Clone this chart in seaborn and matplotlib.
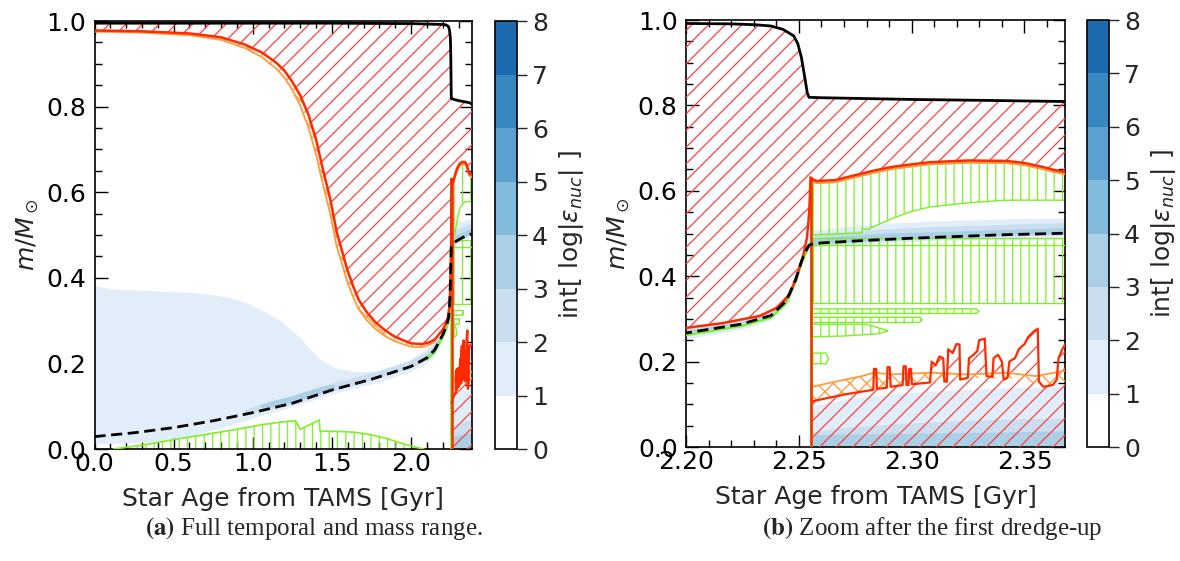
import matplotlib
matplotlib.use("Agg")
import matplotlib.pyplot as plt
import seaborn as sns
from matplotlib.colors import ListedColormap, BoundaryNorm
from matplotlib.cm import ScalarMappable
from matplotlib.ticker import AutoMinorLocator, FormatStrFormatter, MultipleLocator

# ---------------------------------------------------------------- data
# total stellar mass (Msun) vs. age from TAMS (Gyr)
total_age = [0.0, 0.5, 1.0, 1.5, 2.0, 2.1, 2.2, 2.22, 2.2305, 2.2377, 2.243, 2.2477,
             2.2495, 2.2511, 2.2528, 2.2537, 2.2545, 2.26, 2.28, 2.30, 2.33, 2.37, 2.385]
total_mass = [0.995, 0.995, 0.995, 0.995, 0.994, 0.993, 0.992, 0.991, 0.989, 0.986, 0.978, 0.963,
              0.945, 0.913, 0.86, 0.83, 0.819, 0.818, 0.816, 0.814, 0.812, 0.809, 0.806]

# helium core mass (dashed)
core_he_age = [0.0, 0.25, 0.5, 0.75, 1.0, 1.25, 1.5, 1.75, 2.0, 2.1, 2.15, 2.2, 2.2243, 2.2377,
               2.2444, 2.2486, 2.2511, 2.2531, 2.2544, 2.2555, 2.26, 2.28, 2.3, 2.32, 2.34, 2.37, 2.385]
core_he_mass = [0.029, 0.038, 0.05, 0.066, 0.085, 0.107, 0.138, 0.163, 0.193, 0.213, 0.232, 0.267,
                0.2875, 0.308, 0.342, 0.392, 0.434, 0.459, 0.472, 0.475, 0.478, 0.484, 0.489, 0.493,
                0.497, 0.501, 0.503]

# base of the convective envelope before the helium flash
env_age = [0.0, 0.3, 0.6, 0.8, 0.95, 1.06, 1.15, 1.2, 1.25, 1.3, 1.35, 1.4, 1.44, 1.49, 1.53, 1.57,
           1.6, 1.64, 1.67, 1.72, 1.77, 1.83, 1.89, 1.95, 2.0, 2.07, 2.12, 2.15, 2.2, 2.216, 2.2327,
           2.241, 2.246, 2.2494, 2.252, 2.2536, 2.2546, 2.2552]
env_mass = [0.978, 0.976, 0.971, 0.962, 0.945, 0.926, 0.902, 0.884, 0.858, 0.826, 0.783, 0.723,
            0.658, 0.583, 0.507, 0.455, 0.415, 0.375, 0.348, 0.32, 0.298, 0.279, 0.264, 0.254,
            0.247, 0.245, 0.25, 0.256, 0.279, 0.29, 0.307, 0.328, 0.358, 0.405, 0.45, 0.49, 0.55,
            0.631]
# overshoot boundary below the envelope
env_ov_age = [0.0, 0.3, 0.6, 0.8, 0.95, 1.06, 1.15, 1.2, 1.25, 1.3, 1.35, 1.4, 1.44, 1.49, 1.53,
              1.57, 1.6, 1.64, 1.67, 1.72, 1.77, 1.83, 1.89, 1.95, 2.0, 2.07, 2.12, 2.15]
env_ov_mass = [0.975, 0.973, 0.967, 0.956, 0.937, 0.915, 0.888, 0.868, 0.839, 0.802, 0.753, 0.688,
               0.623, 0.548, 0.474, 0.425, 0.387, 0.35, 0.326, 0.301, 0.282, 0.265, 0.253, 0.245,
               0.239, 0.238, 0.244, 0.251]

# base of the convective envelope after the flash, and its overshoot
env2_age = [2.2552, 2.2565, 2.2578, 2.266, 2.2745, 2.283, 2.2913, 2.30, 2.308, 2.325, 2.342, 2.35,
            2.358, 2.363, 2.368, 2.385]
env2_mass = [0.631, 0.626, 0.623, 0.625, 0.636, 0.647, 0.656, 0.662, 0.667, 0.671, 0.670, 0.665,
             0.656, 0.649, 0.644, 0.64]
env2_ov_mass = [0.626, 0.621, 0.618, 0.62, 0.631, 0.642, 0.651, 0.657, 0.662, 0.666, 0.665, 0.66,
                0.651, 0.644, 0.639, 0.635]

# helium flash: age and extent of the convective boundary
flash_age = 2.2556
flash_top = 0.631
flash_green_age = 2.2552
flash_green_top = 0.61

# convective helium-burning core (jagged boundary)
core_age = [2.2558, 2.2712, 2.2830, 2.2833, 2.2843, 2.2846, 2.2890, 2.2893, 2.2903, 2.2907, 2.2960,
            2.2964, 2.2974, 2.2977, 2.2986, 2.2989, 2.2997, 2.3001, 2.3081, 2.3089, 2.3106, 2.3123,
            2.3140, 2.3145, 2.3156, 2.3162, 2.3182, 2.3198, 2.3212, 2.3215, 2.3249, 2.3254, 2.3274,
            2.3291, 2.3299, 2.3324, 2.3332, 2.3358, 2.3363, 2.3383, 2.3400, 2.3408, 2.3425, 2.3433,
            2.3458, 2.3475, 2.3500, 2.3517, 2.3542, 2.3559, 2.3564, 2.3584, 2.3626, 2.3643, 2.3651,
            2.3668, 2.3681, 2.385]
core_mass = [0.107, 0.124, 0.134, 0.183, 0.183, 0.136, 0.139, 0.187, 0.187, 0.141, 0.145, 0.189,
             0.189, 0.145, 0.145, 0.183, 0.183, 0.147, 0.151, 0.200, 0.191, 0.212, 0.208, 0.153,
             0.153, 0.229, 0.220, 0.241, 0.240, 0.158, 0.162, 0.208, 0.216, 0.225, 0.250, 0.254,
             0.166, 0.164, 0.208, 0.216, 0.200, 0.158, 0.162, 0.200, 0.208, 0.229, 0.241, 0.258,
             0.271, 0.277, 0.153, 0.141, 0.145, 0.158, 0.208, 0.229, 0.241, 0.245]
core_base_age = [2.2558, 2.2712, 2.283, 2.30, 2.325, 2.345, 2.36, 2.385]
core_base_mass = [0.107, 0.124, 0.134, 0.147, 0.162, 0.16, 0.143, 0.15]
core_ov_age = [2.2558, 2.2662, 2.2779, 2.2831, 2.2913, 2.3081, 2.3249, 2.3416, 2.355, 2.3681, 2.385]
core_ov_mass = [0.141, 0.153, 0.166, 0.174, 0.170, 0.174, 0.170, 0.174, 0.166, 0.179, 0.18]

# thermohaline mixing zones (green)
thm_low_age = [0.12, 0.3, 0.5, 0.7, 0.9, 1.06, 1.18, 1.27, 1.3, 1.42, 1.425, 1.55, 1.65, 1.75,
               1.85, 1.95, 2.02, 2.08]
thm_low_top = [0.0, 0.009, 0.022, 0.034, 0.046, 0.057, 0.063, 0.066, 0.046, 0.068, 0.042, 0.041,
               0.039, 0.033, 0.024, 0.012, 0.005, 0.0]
thm_up_age = [2.2562, 2.2779, 2.278, 2.2813, 2.2814, 2.2913, 2.30, 2.308, 2.325, 2.342, 2.385]
thm_up_bot = [0.497, 0.501, 0.51, 0.51, 0.512, 0.535, 0.552, 0.562, 0.572, 0.578, 0.578]
thm_mid_age = [2.2562, 2.385]
thm_mid_bot = [0.338, 0.338]
thm_mid_inner = [0.472, 0.472]
thm_mid_top = [0.489, 0.489]
thm_tongues = [
    ([2.2558, 2.3285, 2.3299, 2.3285, 2.2558], [0.3236, 0.3236, 0.318, 0.3127, 0.3127]),
    ([2.2558, 2.3035, 2.3047, 2.3035, 2.2558], [0.304, 0.304, 0.298, 0.2917, 0.2917]),
    ([2.2558, 2.28, 2.2897, 2.285, 2.27, 2.2558], [0.2875, 0.2875, 0.272, 0.265, 0.26, 0.258]),
    ([2.2562, 2.262, 2.2632, 2.262, 2.2562], [0.22, 0.22, 0.207, 0.195, 0.195]),
]
thm_shell_age = [2.1, 2.15, 2.2, 2.2243, 2.2377, 2.2444, 2.2486, 2.2511, 2.2531, 2.2544]
thm_shell_mass = [0.209, 0.227, 0.262, 0.283, 0.303, 0.337, 0.387, 0.429, 0.454, 0.468]

# int[log eps_nuc] bands: (age, lower, upper, level)
burn_age_1 = [0.0, 0.1, 0.35, 0.6, 0.82, 0.94, 1.06, 1.18, 1.3, 1.37, 1.44, 1.53, 1.65, 1.77, 1.89,
              1.98, 2.05, 2.1, 2.15, 2.2, 2.2243, 2.2377, 2.2444, 2.2486, 2.2511, 2.2531, 2.2548]
burn_top_1 = [0.381, 0.373, 0.369, 0.365, 0.356, 0.344, 0.323, 0.298, 0.26, 0.23, 0.205, 0.188,
              0.18, 0.18, 0.188, 0.205, 0.22, 0.232, 0.25, 0.28, 0.298, 0.32, 0.354, 0.404, 0.445,
              0.47, 0.482]
burn_bot_1 = [0.012, 0.012, 0.016, 0.03, 0.05, 0.064, 0.078, 0.09, 0.104, 0.112, 0.12, 0.13, 0.142,
              0.153, 0.166, 0.178, 0.19, 0.2, 0.214, 0.252, 0.274, 0.295, 0.328, 0.378, 0.42, 0.447,
              0.462]
burn_age_2 = [0.95, 1.06, 1.25, 1.5, 1.75, 2.0, 2.1, 2.15, 2.2, 2.2243, 2.2377, 2.2444, 2.2486,
              2.2511, 2.2531, 2.2548]
burn_top_2 = [0.09, 0.105, 0.124, 0.153, 0.177, 0.206, 0.226, 0.245, 0.276, 0.294, 0.315, 0.349,
              0.398, 0.44, 0.465, 0.478]
burn_bot_2 = [0.078, 0.088, 0.104, 0.134, 0.16, 0.189, 0.209, 0.227, 0.262, 0.283, 0.304, 0.338,
              0.388, 0.43, 0.455, 0.468]
burn_age_3a = [1.05, 1.15, 1.25, 1.35, 1.45, 1.52]
burn_top_3a = [0.103, 0.114, 0.123, 0.135, 0.147, 0.15]
burn_bot_3a = [0.095, 0.1, 0.109, 0.12, 0.133, 0.142]
burn_age_3b = [2.05, 2.1, 2.15, 2.2, 2.2243, 2.2377, 2.2444, 2.2486, 2.2511, 2.2531, 2.2548]
burn_top_3b = [0.205, 0.219, 0.238, 0.272, 0.291, 0.311, 0.345, 0.395, 0.437, 0.462, 0.475]
burn_bot_3b = [0.2, 0.213, 0.232, 0.267, 0.2875, 0.308, 0.342, 0.392, 0.434, 0.459, 0.472]
# after the flash: hydrogen shell and helium core
post_age = [2.2558, 2.27, 2.29, 2.31, 2.33, 2.35, 2.385]
shell_bot_1 = [0.468, 0.472, 0.478, 0.482, 0.486, 0.49, 0.495]
shell_top_1 = [0.505, 0.515, 0.523, 0.528, 0.531, 0.534, 0.536]
shell_bot_2 = [0.471, 0.476, 0.482, 0.486, 0.49, 0.494, 0.498]
shell_top_2 = [0.496, 0.503, 0.51, 0.515, 0.518, 0.522, 0.526]
shell_bot_3 = [0.474, 0.479, 0.485, 0.489, 0.493, 0.497, 0.501]
shell_top_3 = [0.488, 0.494, 0.5, 0.503, 0.506, 0.51, 0.514]
he_core_bot = [0.0, 0.0, 0.0, 0.0, 0.0, 0.0, 0.0]
he_core_top_1 = [0.095, 0.11, 0.122, 0.13, 0.135, 0.139, 0.142]
he_core_top_2 = [0.033, 0.045, 0.052, 0.058, 0.062, 0.065, 0.067]
he_core_top_3 = [0.028, 0.029, 0.03, 0.032, 0.033, 0.035, 0.037]

burn_bands = [
    (burn_age_1, burn_bot_1, burn_top_1, 1),
    (burn_age_2, burn_bot_2, burn_top_2, 2),
    (burn_age_3a, burn_bot_3a, burn_top_3a, 3),
    (burn_age_3b, burn_bot_3b, burn_top_3b, 3),
    (post_age, shell_bot_1, shell_top_1, 1),
    (post_age, shell_bot_2, shell_top_2, 2),
    (post_age, shell_bot_3, shell_top_3, 3),
    (post_age, he_core_bot, he_core_top_1, 1),
    (post_age, he_core_bot, he_core_top_2, 2),
    (post_age, he_core_bot, he_core_top_3, 3),
]

cbar_levels = [0, 1, 2, 3, 4, 5, 6, 7, 8]
level_colors = ['#ffffff', '#e1edf8', '#cadef0', '#abd0e6', '#82bbdb', '#5aa1cf', '#3987c0',
                '#1d6aae']

# ---------------------------------------------------------------- style
sns.set_style("ticks")
plt.rcParams.update({
    "font.family": ["DejaVu Sans"],
    "font.size": 18,
    "mathtext.fontset": "dejavusans",
    "hatch.linewidth": 0.9,
    "axes.linewidth": 1.2,
    "axes.edgecolor": "black",
})

RED = "#ff2a00"
RED_HATCH = "#ff4040"
ORANGE = "#ff9b3a"
GREEN = "#7cf026"


def closed(age_a, m_a, age_b, m_b):
    """Polygon running along (age_a, m_a) and back along (age_b, m_b)."""
    return list(age_a) + list(age_b)[::-1], list(m_a) + list(m_b)[::-1]


def draw_kipp(ax):
    # nuclear energy generation bands
    for age, lo, hi, lvl in burn_bands:
        x, y = closed(age, hi, age, lo)
        ax.fill(x, y, color=level_colors[lvl], lw=0, zorder=1)

    # thermohaline zones
    ax.fill_between(thm_low_age, 0, thm_low_top, facecolor="none", edgecolor=GREEN,
                    hatch="||", lw=0, zorder=2)
    ax.plot(thm_low_age, thm_low_top, color=GREEN, lw=1.2, zorder=3)
    sel = [(a, m) for a, m in zip(env2_age, env2_ov_mass) if a >= thm_up_age[0]]
    x, y = closed(thm_up_age, thm_up_bot, [a for a, _ in sel], [m for _, m in sel])
    ax.fill(x, y, facecolor="none", edgecolor=GREEN, hatch="||", lw=1.0, zorder=2)
    ax.fill_between(thm_mid_age, thm_mid_bot, thm_mid_top, facecolor="none", edgecolor=GREEN,
                    hatch="||", lw=1.0, zorder=2)
    ax.plot(thm_mid_age, thm_mid_inner, color=GREEN, lw=1.0, zorder=3)
    for ages, masses in thm_tongues:
        ax.fill(ages, masses, facecolor="none", edgecolor=GREEN, hatch="||", lw=1.0, zorder=2)
    ax.plot(thm_shell_age, thm_shell_mass, color=GREEN, lw=1.6, zorder=3)
    ax.plot([flash_green_age, flash_green_age], [0.0, flash_green_top], color=GREEN, lw=2.0,
            zorder=3)

    # convective envelope (whole evolution)
    x = env_age + env2_age + total_age[::-1]
    y = env_mass + env2_mass + total_mass[::-1]
    ax.fill(x, y, facecolor="none", edgecolor=RED_HATCH, hatch="//", lw=0, zorder=3)

    # overshoot below the envelope
    sel = [(a, m) for a, m in zip(env_age, env_mass) if a <= env_ov_age[-1]]
    x, y = closed(env_ov_age, env_ov_mass, [a for a, _ in sel], [m for _, m in sel])
    ax.fill(x, y, facecolor="none", edgecolor=ORANGE, hatch="xx", lw=0, zorder=3)
    ax.plot(env_ov_age, env_ov_mass, color=ORANGE, lw=1.3, zorder=4)
    ax.plot(env2_age, env2_ov_mass, color=ORANGE, lw=1.3, zorder=4)

    # convective helium core after the flash
    x = [core_age[0]] + core_age + [core_age[-1]]
    y = [0.0] + core_mass + [0.0]
    ax.fill(x, y, facecolor="none", edgecolor=RED_HATCH, hatch="//", lw=0, zorder=3)
    x, y = closed(core_ov_age, core_ov_mass, core_base_age, core_base_mass)
    ax.fill(x, y, facecolor="none", edgecolor=ORANGE, hatch="xx", lw=0, zorder=3)
    ax.plot(core_ov_age, core_ov_mass, color=ORANGE, lw=1.3, zorder=4)
    ax.plot(core_age, core_mass, color=RED, lw=1.6, zorder=5)

    # envelope boundaries
    ax.plot(env_age, env_mass, color=RED, lw=1.8, zorder=5)
    ax.plot(env2_age, env2_mass, color=RED, lw=1.8, zorder=5)
    ax.plot([flash_age, flash_age], [0.0, flash_top], color=RED, lw=1.8, zorder=5)

    # total mass and helium core mass
    sns.lineplot(x=total_age, y=total_mass, ax=ax, color="black", lw=2.0, sort=False,
                 estimator=None, legend=False, zorder=6)
    sns.lineplot(x=core_he_age, y=core_he_mass, ax=ax, color="black", lw=2.0, sort=False,
                 estimator=None, legend=False, zorder=6, dashes=False, linestyle=(0, (4, 2)))

    ax.set_ylim(0, 1)
    ax.yaxis.set_major_locator(MultipleLocator(0.2))
    ax.yaxis.set_major_formatter(FormatStrFormatter("%.1f"))
    ax.xaxis.set_minor_locator(AutoMinorLocator())
    ax.yaxis.set_minor_locator(AutoMinorLocator())
    ax.tick_params(which="both", direction="in", top=True, right=True, width=1.0,
                   labelsize=18, colors="black")
    ax.tick_params(which="major", length=9)
    ax.tick_params(which="minor", length=5)
    ax.tick_params(axis="x", pad=2)
    ax.tick_params(axis="y", pad=6)
    ax.set_xlabel("Star Age from TAMS [Gyr]", fontsize=18, labelpad=8)
    ax.set_ylabel(r"$m/M_\odot$", fontsize=18)
    for s in ax.spines.values():
        s.set_visible(True)
        s.set_linewidth(1.2)


def draw_cbar(fig, cax):
    cmap = ListedColormap(level_colors)
    norm = BoundaryNorm(cbar_levels, cmap.N)
    sm = ScalarMappable(norm=norm, cmap=cmap)
    cb = fig.colorbar(sm, cax=cax, ticks=cbar_levels)
    cb.outline.set_linewidth(1.2)
    cb.ax.tick_params(direction="out", length=7, width=1.0, labelsize=18, pad=4)
    cb.set_label(r"int[ log|$\epsilon_{nuc}$| ]", fontsize=18, labelpad=6)


fig = plt.figure(figsize=(11.8, 5.61), dpi=100)
ax_a = fig.add_axes([0.0801, 0.1996, 0.3199, 0.7629])
cax_a = fig.add_axes([0.4195, 0.1996, 0.0186, 0.7629])
ax_b = fig.add_axes([0.5814, 0.2032, 0.3212, 0.7611])
cax_b = fig.add_axes([0.9212, 0.2032, 0.0186, 0.7611])

draw_kipp(ax_a)
ax_a.set_xlim(0, 2.385)
ax_a.xaxis.set_major_locator(MultipleLocator(0.5))
ax_a.xaxis.set_major_formatter(FormatStrFormatter("%.1f"))

draw_kipp(ax_b)
ax_b.set_xlim(2.2, 2.368)
ax_b.xaxis.set_major_locator(MultipleLocator(0.05))
ax_b.xaxis.set_major_formatter(FormatStrFormatter("%.2f"))

draw_cbar(fig, cax_a)
draw_cbar(fig, cax_b)

fig.text(0.1229, 0.046, r"$\mathbf{(a)}$ Full temporal and mass range.",
         family="Liberation Serif", math_fontfamily="stix", fontsize=18,
         ha="left", va="baseline")
fig.text(0.6458, 0.046, r"$\mathbf{(b)}$ Zoom after the first dredge-up",
         family="Liberation Serif", math_fontfamily="stix", fontsize=18,
         ha="left", va="baseline")

fig.savefig("out.png", dpi=100)
